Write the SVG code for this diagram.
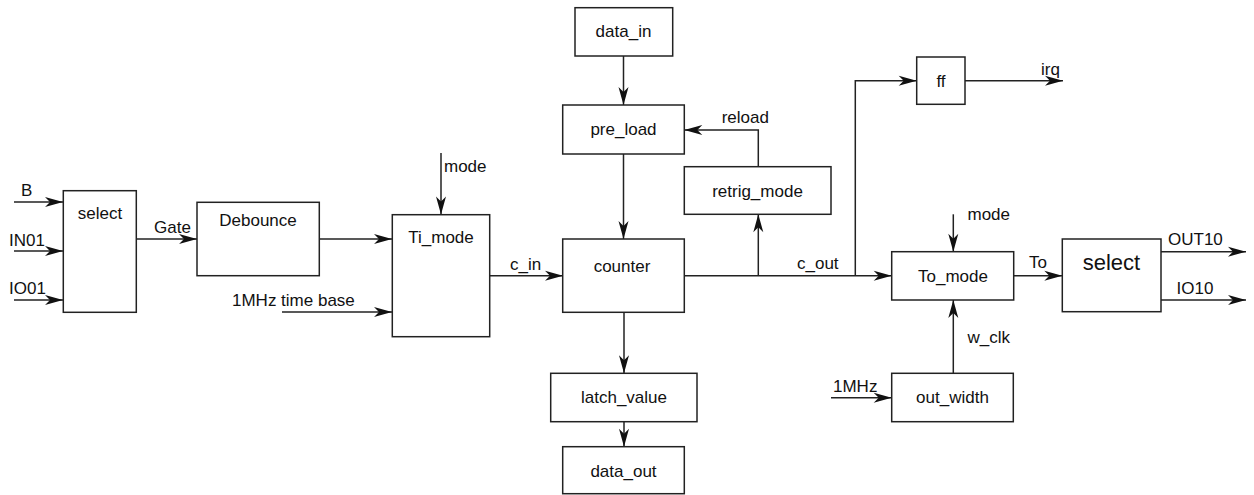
<svg xmlns="http://www.w3.org/2000/svg" width="1254" height="495" viewBox="0 0 1254 495">
<style>
.box{fill:#fff;stroke:#222;stroke-width:1.5}
.ln{fill:none;stroke:#222;stroke-width:1.5}
text{font-family:"Liberation Sans",Arial,sans-serif;font-size:17px;fill:#111}
.c{text-anchor:middle}
.big{font-size:22px}
</style>
<defs>
<marker id="ah" markerUnits="userSpaceOnUse" viewBox="-19 -6 20 12" refX="0" refY="0" markerWidth="20" markerHeight="12" orient="auto">
<path d="M0,0 L-18,-5 L-13,0 L-18,5 Z" fill="#111"/>
</marker>
</defs>
<rect width="1254" height="495" fill="#fff"/>
<g id="connectors">
<path class="ln" d="M14,202 H63" marker-end="url(#ah)"/>
<path class="ln" d="M14,251 H63" marker-end="url(#ah)"/>
<path class="ln" d="M14,300 H63" marker-end="url(#ah)"/>
<path class="ln" d="M136,239 H197" marker-end="url(#ah)"/>
<path class="ln" d="M319,239 H392" marker-end="url(#ah)"/>
<path class="ln" d="M441,153 V214.5" marker-end="url(#ah)"/>
<path class="ln" d="M282,312 H392" marker-end="url(#ah)"/>
<path class="ln" d="M490,275.7 H563" marker-end="url(#ah)"/>
<path class="ln" d="M623.5,56 V105" marker-end="url(#ah)"/>
<path class="ln" d="M623.5,154 V239" marker-end="url(#ah)"/>
<path class="ln" d="M758.3,166.7 V130 H684.3" marker-end="url(#ah)"/>
<path class="ln" d="M684.3,275.7 H891.7" marker-end="url(#ah)"/>
<path class="ln" d="M758.3,275.7 V214.3" marker-end="url(#ah)"/>
<path class="ln" d="M855.3,275.7 V80.7 H916.7" marker-end="url(#ah)"/>
<path class="ln" d="M965,80.7 H1063" marker-end="url(#ah)"/>
<path class="ln" d="M624,312.3 V373.3" marker-end="url(#ah)"/>
<path class="ln" d="M624,421.7 V446.7" marker-end="url(#ah)"/>
<path class="ln" d="M953.3,214.3 V251.7" marker-end="url(#ah)"/>
<path class="ln" d="M1013.7,275.7 H1062.3" marker-end="url(#ah)"/>
<path class="ln" d="M1161,251.7 H1246" marker-end="url(#ah)"/>
<path class="ln" d="M1161,300 H1246" marker-end="url(#ah)"/>
<path class="ln" d="M953.3,373.3 V300" marker-end="url(#ah)"/>
<path class="ln" d="M831,397.7 H891.7" marker-end="url(#ah)"/>
</g>
<g id="labels">
<text x="21" y="196">B</text>
<text x="9" y="245.7">IN01</text>
<text x="9" y="294">IO01</text>
<text x="154" y="232.5">Gate</text>
<text x="444" y="171.5">mode</text>
<text x="232" y="306">1MHz time base</text>
<text x="510" y="270">c_in</text>
<text x="721.7" y="123">reload</text>
<text x="797" y="269">c_out</text>
<text x="1041" y="75">irq</text>
<text x="967.5" y="220">mode</text>
<text x="1029" y="268">To</text>
<text x="1168" y="245">OUT10</text>
<text x="1176.5" y="294">IO10</text>
<text x="967.5" y="342.5">w_clk</text>
<text x="833" y="391.5">1MHz</text>
</g>
<g id="select_in"><rect class="box" x="63.3" y="190.7" width="73" height="121.6"/><text class="c" x="100" y="219">select</text></g>
<g id="debounce"><rect class="box" x="197" y="202.3" width="122.3" height="73.4"/><text class="c" x="258" y="225.7">Debounce</text></g>
<g id="ti_mode"><rect class="box" x="392.3" y="214.7" width="97.4" height="122"/><text class="c" x="441" y="242.7">Ti_mode</text></g>
<g id="data_in"><rect class="box" x="575" y="7.7" width="97.7" height="48.3"/><text class="c" x="623.5" y="37.3">data_in</text></g>
<g id="pre_load"><rect class="box" x="562.7" y="105" width="121.6" height="49"/><text class="c" x="623.5" y="135">pre_load</text></g>
<g id="retrig_mode"><rect class="box" x="684.3" y="166.7" width="146.7" height="47.6"/><text class="c" x="757.5" y="196.7">retrig_mode</text></g>
<g id="counter"><rect class="box" x="562.7" y="239" width="121.6" height="73.3"/><text class="c" x="622" y="271.7">counter</text></g>
<g id="latch_value"><rect class="box" x="550.7" y="373.3" width="146.3" height="48.4"/><text class="c" x="624" y="403.3">latch_value</text></g>
<g id="data_out"><rect class="box" x="562.7" y="446.7" width="121.6" height="47"/><text class="c" x="623.5" y="476.7">data_out</text></g>
<g id="ff"><rect class="box" x="916.7" y="57" width="48.3" height="47.3"/><text class="c" x="941" y="86.7">ff</text></g>
<g id="to_mode"><rect class="box" x="891.7" y="251.7" width="122" height="48.3"/><text class="c" x="953" y="281.7">To_mode</text></g>
<g id="select_out"><rect class="box" x="1062.3" y="239" width="98.7" height="72.7"/><text class="c big" x="1111.5" y="270">select</text></g>
<g id="out_width"><rect class="box" x="891.7" y="373.3" width="121.6" height="48.4"/><text class="c" x="952.5" y="403.3">out_width</text></g>
</svg>
